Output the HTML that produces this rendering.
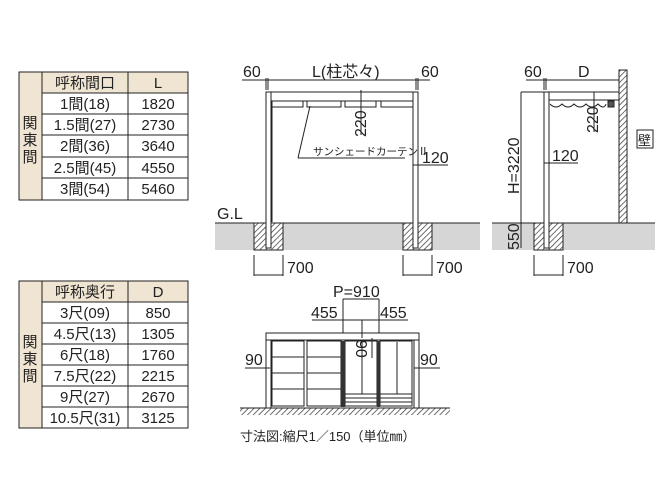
<!DOCTYPE html>
<html><head><meta charset="utf-8"><style>
body{margin:0;background:#fff;}
svg{display:block;font-family:"Liberation Sans","Noto Sans CJK JP",sans-serif;}
</style></head><body>
<svg width="667" height="500" viewBox="0 0 667 500" xmlns="http://www.w3.org/2000/svg">
<defs>
<pattern id="h" width="4" height="4" patternUnits="userSpaceOnUse" patternTransform="rotate(45)">
<rect width="4" height="4" fill="#fff"/><line x1="0" y1="0" x2="0" y2="4" stroke="#333" stroke-width="1.4"/></pattern>
</defs>
<!-- Table 1 -->
<g stroke="#222" stroke-width="1" fill="none">
<rect x="19" y="72" width="23" height="128" fill="#efe5d2"/>
<rect x="42" y="72" width="146" height="21" fill="#efe5d2"/>
<rect x="19" y="72" width="169" height="128"/>
<line x1="42" y1="72" x2="42" y2="200"/><line x1="128" y1="72" x2="128" y2="200"/>
<line x1="42" y1="93" x2="188" y2="93"/><line x1="42" y1="114" x2="188" y2="114"/>
<line x1="42" y1="135" x2="188" y2="135"/><line x1="42" y1="157" x2="188" y2="157"/>
<line x1="42" y1="178" x2="188" y2="178"/>
</g>
<g font-size="15" fill="#222" text-anchor="middle">
<text x="30" y="128">関</text><text x="30" y="145">東</text><text x="30" y="162">間</text>
<text x="85" y="88">呼称間口</text><text x="158" y="88">L</text>
<text x="85" y="109">1間(18)</text><text x="158" y="109">1820</text>
<text x="85" y="130">1.5間(27)</text><text x="158" y="130">2730</text>
<text x="85" y="151">2間(36)</text><text x="158" y="151">3640</text>
<text x="85" y="173">2.5間(45)</text><text x="158" y="173">4550</text>
<text x="85" y="194">3間(54)</text><text x="158" y="194">5460</text>
</g>
<!-- Table 2 -->
<g stroke="#222" stroke-width="1" fill="none">
<rect x="19" y="281" width="23" height="147" fill="#efe5d2"/>
<rect x="42" y="281" width="146" height="21" fill="#efe5d2"/>
<rect x="19" y="281" width="169" height="147"/>
<line x1="42" y1="281" x2="42" y2="428"/><line x1="128" y1="281" x2="128" y2="428"/>
<line x1="42" y1="302" x2="188" y2="302"/><line x1="42" y1="323" x2="188" y2="323"/>
<line x1="42" y1="344" x2="188" y2="344"/><line x1="42" y1="365" x2="188" y2="365"/>
<line x1="42" y1="386" x2="188" y2="386"/><line x1="42" y1="407" x2="188" y2="407"/>
</g>
<g font-size="15" fill="#222" text-anchor="middle">
<text x="30" y="347">関</text><text x="30" y="364">東</text><text x="30" y="381">間</text>
<text x="85" y="297">呼称奥行</text><text x="158" y="297">D</text>
<text x="85" y="318">3尺(09)</text><text x="158" y="318">850</text>
<text x="85" y="339">4.5尺(13)</text><text x="158" y="339">1305</text>
<text x="85" y="360">6尺(18)</text><text x="158" y="360">1760</text>
<text x="85" y="381">7.5尺(22)</text><text x="158" y="381">2215</text>
<text x="85" y="402">9尺(27)</text><text x="158" y="402">2670</text>
<text x="85" y="423">10.5尺(31)</text><text x="158" y="423">3125</text>
</g>

<!-- Front view -->
<rect x="215" y="223" width="265" height="27" fill="#d6d6d6"/>
<line x1="215" y1="223" x2="480" y2="223" stroke="#222"/>
<rect x="254" y="223" width="29" height="27" fill="url(#h)" stroke="#222"/>
<rect x="403" y="223" width="29" height="27" fill="url(#h)" stroke="#222"/>
<g stroke="#222" fill="#fff" stroke-width="1">
<rect x="266" y="92" width="152" height="9"/>
<rect x="266" y="92" width="5" height="156"/>
<rect x="413" y="92" width="5" height="156"/>
<rect x="272" y="101" width="31" height="6"/><rect x="307" y="101" width="34" height="6"/>
<rect x="345" y="101" width="31" height="6"/><rect x="381" y="101" width="32" height="6"/>
<line x1="272" y1="103" x2="272" y2="222"/>
</g>
<g stroke="#222" stroke-width="1" fill="none">
<line x1="242" y1="80" x2="430" y2="80"/>
<line x1="266" y1="78" x2="266" y2="90"/><line x1="268" y1="78" x2="268" y2="90"/>
<line x1="416" y1="78" x2="416" y2="90"/><line x1="418" y1="78" x2="418" y2="90"/>
<line x1="361" y1="90" x2="361" y2="135"/>
<line x1="298" y1="158" x2="405" y2="158"/><line x1="298" y1="158" x2="310" y2="106"/>
<line x1="413" y1="165" x2="448" y2="165"/>
<line x1="254" y1="255" x2="254" y2="276"/><line x1="283" y1="255" x2="283" y2="276"/>
<line x1="254" y1="275" x2="283" y2="275"/>
<line x1="403" y1="255" x2="403" y2="276"/><line x1="432" y1="255" x2="432" y2="276"/>
<line x1="403" y1="275" x2="432" y2="275"/>
</g>
<g font-size="16" fill="#222">
<text x="243" y="77">60</text><text x="312" y="77">L(柱芯々)</text><text x="421" y="77">60</text>
<text x="422" y="163">120</text><text x="217" y="219">G.L</text>
<text x="287" y="273">700</text><text x="436" y="273">700</text>
<text transform="translate(366,137) rotate(-90)">220</text>
</g>
<text x="313" y="155" font-size="10.5" fill="#222">サンシェードカーテンⅡ</text>

<!-- Side view -->
<rect x="492" y="223" width="163" height="27" fill="#d6d6d6"/>
<line x1="492" y1="223" x2="655" y2="223" stroke="#222"/>
<rect x="534" y="223" width="29" height="27" fill="url(#h)" stroke="#222"/>
<rect x="619" y="70" width="8" height="153" fill="url(#h)" stroke="#222"/>
<g stroke="#222" fill="#fff">
<rect x="549" y="92" width="70" height="8"/>
<rect x="544" y="92" width="5" height="156"/>
<rect x="608" y="101" width="6" height="6" fill="#555"/>
</g>
<path d="M550 104 q6 6 12 0 q6 6 12 0 q6 6 12 0 q6 6 12 0 q6 6 8 0" stroke="#222" fill="none"/>
<g stroke="#222" fill="none">
<line x1="526" y1="80" x2="619" y2="80"/>
<line x1="544" y1="78" x2="544" y2="90"/><line x1="546" y1="78" x2="546" y2="90"/>
<line x1="521" y1="92" x2="544" y2="92"/><line x1="521" y1="92" x2="521" y2="248"/>
<line x1="594" y1="92" x2="594" y2="132"/>
<line x1="544" y1="163" x2="578" y2="163"/>
<line x1="534" y1="255" x2="534" y2="276"/><line x1="563" y1="255" x2="563" y2="276"/>
<line x1="534" y1="275" x2="563" y2="275"/>
<rect x="637" y="130" width="16" height="18"/>
</g>
<g font-size="16" fill="#222">
<text x="524" y="77">60</text><text x="578" y="77">D</text>
<text x="552" y="161">120</text><text x="567" y="273">700</text>
<text transform="translate(598,133) rotate(-90)">220</text>
<text transform="translate(519,194) rotate(-90)">H=3220</text>
<text transform="translate(519,250) rotate(-90)">550</text>
<text x="638" y="145" font-size="13">壁</text>
</g>

<!-- Bottom front -->
<rect x="240" y="408" width="210" height="7" fill="url(#h)"/>
<line x1="240" y1="408" x2="450" y2="408" stroke="#222"/>
<g stroke="#222" fill="#fff">
<rect x="266" y="333" width="153" height="7"/>
<rect x="266" y="340" width="5" height="68"/><rect x="414" y="340" width="5" height="68"/>
<rect x="272" y="341" width="32" height="65"/><rect x="307" y="341" width="34" height="65"/>
<rect x="345" y="341" width="32" height="65"/><rect x="380" y="341" width="32" height="65"/>
<line x1="272" y1="357" x2="304" y2="357"/><line x1="272" y1="373" x2="304" y2="373"/><line x1="272" y1="389" x2="304" y2="389"/>
<line x1="307" y1="357" x2="341" y2="357"/><line x1="307" y1="373" x2="341" y2="373"/><line x1="307" y1="389" x2="341" y2="389"/>
<line x1="362" y1="342" x2="362" y2="394"/><line x1="397" y1="342" x2="397" y2="394"/>
<line x1="345" y1="394" x2="412" y2="394"/><line x1="345" y1="398" x2="412" y2="398"/><line x1="345" y1="402" x2="412" y2="402"/>
</g>
<rect x="341" y="341" width="4" height="66" fill="#333"/><rect x="377" y="341" width="3" height="66" fill="#333"/>
<g stroke="#222" fill="none">
<line x1="343" y1="299" x2="379" y2="299"/><line x1="343" y1="299" x2="343" y2="333"/><line x1="379" y1="299" x2="379" y2="333"/>
<line x1="312" y1="320" x2="408" y2="320"/><line x1="362" y1="320" x2="362" y2="338"/>
<line x1="372" y1="338" x2="372" y2="358"/>
<line x1="245" y1="368" x2="270" y2="368"/><line x1="414" y1="368" x2="440" y2="368"/>
</g>
<g font-size="16" fill="#222">
<text x="333" y="297">P=910</text><text x="311" y="318">455</text><text x="380" y="318">455</text>
<text x="245" y="365">90</text><text x="420" y="365">90</text>
<text transform="translate(356,340) rotate(90)">90</text>
</g>
<text x="240" y="441" font-size="13" fill="#222">寸法図:縮尺1／150（単位㎜）</text>
</svg>
</body></html>
